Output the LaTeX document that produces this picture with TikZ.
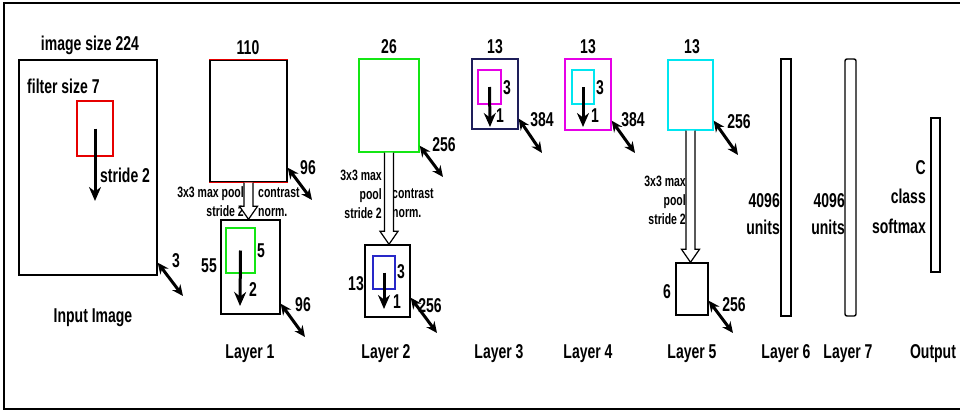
\documentclass[tikz,border=0pt]{standalone}
\usepackage{fontspec}
\setmainfont{Liberation Sans}[FakeStretch=0.7]
\usetikzlibrary{calc, arrows.meta}

\definecolor{navy}{RGB}{30,30,90}
\definecolor{brightgreen}{RGB}{20,230,20}
\definecolor{brightcyan}{RGB}{0,230,240}
\definecolor{brightmagenta}{RGB}{230,0,230}
\definecolor{brightred}{RGB}{230,0,0}
\definecolor{filterblue}{RGB}{40,40,200}

\begin{document}
\begin{tikzpicture}[x=1pt, y=-1pt, >={Stealth[length=11pt, width=10pt]},
    box/.style 2 args={draw, line width=1.4pt, inner sep=0pt, minimum width=#1pt, minimum height=#2pt},
    lbl/.style={inner sep=0pt, font=\fontsize{20}{27}\selectfont\bfseries},
    small/.style={inner sep=0pt, font=\fontsize{15}{19}\selectfont\bfseries},
    depth/.style={<->, line width=3pt},
    stride/.style={-{Stealth[length=14pt, width=12pt]}, line width=3pt},
    pool/.style={line width=1.2pt, fill=white}]
  \useasboundingbox (0,0) rectangle (960,412);

  % Frame
  \draw[line width=2pt] (964,3) -- (4,3) -- (4,409) -- (964,409);

  % Input image
  \node[box={138}{215}] (img) at (88,167.5) {};
  \node[box={36}{55}, draw=brightred] (f0) at (95,128.5) {};
  \coordinate (s0) at (95,201);
  \draw[stride] (f0.center) -- (s0);
  \coordinate (d0) at (183,296);
  \draw[depth] ([yshift=13pt]img.south east) -- (d0);
  \node[lbl] (t0) at (90,45) {image size 224};
  \node[lbl, anchor=west] (fs) at (27,86) {filter size 7};
  \node[lbl, anchor=west] (st) at (100,175) {stride 2};
  \node[lbl] (c0) at (176,261) {3};
  \node[lbl] (n0) at (93,318) {Input Image};

  % Layer 1
  \node[box={77}{122}] (l1a) at (248.5,121) {};
  \draw[brightred, line width=1.4pt] (l1a.north west) -- (l1a.north east) (l1a.south west) -- (l1a.south east);
  \node[box={59}{94}] (l1b) at (250.5,267) {};
  \node[box={29}{45}, draw=brightgreen] (f1) at (240.5,250.5) {};
  \coordinate (s1) at (240,306);
  \draw[stride] (f1.center) -- (s1);
  \coordinate (d1a) at (312,200);
  \coordinate (d1b) at (305,337);
  \draw[depth] ([yshift=15pt]l1a.south east) -- (d1a);
  \draw[depth] ([yshift=11pt]l1b.south east) -- (d1b);
  \node[lbl] (t1) at (248,48) {110};
  \node[lbl] (c1a) at (308,168) {96};
  \node[lbl] (c1b) at (303,305) {96};
  \node[lbl, anchor=east] (w1) at (217,266) {55};
  \node[lbl] (k1) at (261,251) {5};
  \node[lbl] (r1) at (253,290) {2};
  \node[small, align=right, anchor=east] (p1) at (244,202) {3x3 max pool\\stride 2};
  \node[small, align=left, anchor=west] (m1) at (258,202) {contrast\\norm.};
  \node[lbl] (n1) at (250,354) {Layer 1};

  % Layer 2
  \node[box={60}{93}, draw=brightgreen] (l2a) at (389,105.5) {};
  \node[box={45}{72}] (l2b) at (387.5,281) {};
  \node[box={22}{33}, draw=filterblue] (f2) at (384,272.5) {};
  \coordinate (s2) at (384,309);
  \draw[stride] (f2.center) -- (s2);
  \coordinate (d2a) at (443,177);
  \coordinate (d2b) at (437,333);
  \draw[depth] ([yshift=7pt]l2a.south east) -- (d2a);
  \draw[depth] ([yshift=20pt]l2b.south east) -- (d2b);
  \node[lbl] (t2) at (389,47) {26};
  \node[lbl] (c2a) at (444,145) {256};
  \node[lbl] (c2b) at (430,306) {256};
  \node[lbl, anchor=east] (w2) at (364,284) {13};
  \node[lbl] (k2) at (401,272) {3};
  \node[lbl] (r2) at (397,302) {1};
  \node[small, align=right, anchor=east] (p2) at (382,194) {3x3 max\\pool\\stride 2};
  \node[small, align=left, anchor=west] (m2) at (392,203.5) {contrast\\norm.};
  \node[lbl] (n2) at (386,354) {Layer 2};

  % Layer 3
  \node[box={46}{70}, draw=navy] (l3) at (495,94) {};
  \node[box={23}{34}, draw=brightmagenta] (f3) at (489.5,87) {};
  \coordinate (s3) at (490,127);
  \draw[stride] (f3.center) -- (s3);
  \coordinate (d3) at (542,153);
  \draw[depth] ([yshift=11pt]l3.south east) -- (d3);
  \node[lbl] (t3) at (495,47) {13};
  \node[lbl] (k3) at (507,88) {3};
  \node[lbl] (r3) at (500,116) {1};
  \node[lbl] (c3) at (542,120) {384};
  \node[lbl] (n3) at (499,354) {Layer 3};

  % Layer 4
  \node[box={46}{71}, draw=brightmagenta] (l4) at (588,94.5) {};
  \node[box={22}{34}, draw=brightcyan] (f4) at (583,87) {};
  \coordinate (s4) at (583,127);
  \draw[stride] (f4.center) -- (s4);
  \coordinate (d4) at (635,153);
  \draw[depth] ([yshift=10pt]l4.south east) -- (d4);
  \node[lbl] (t4) at (588,47) {13};
  \node[lbl] (k4) at (600,88) {3};
  \node[lbl] (r4) at (595,116) {1};
  \node[lbl] (c4) at (633,120) {384};
  \node[lbl] (n4) at (588,354) {Layer 4};

  % Layer 5
  \node[box={45}{70}, draw=brightcyan] (l5a) at (690.5,95) {};
  \node[box={32}{52}] (l5b) at (692,289) {};
  \coordinate (d5a) at (738,155);
  \coordinate (d5b) at (733,333);
  \draw[depth] ([yshift=10pt]l5a.south east) -- (d5a);
  \draw[depth] ([yshift=15pt]l5b.south east) -- (d5b);
  \node[lbl] (t5) at (692,47) {13};
  \node[lbl] (c5a) at (739,122) {256};
  \node[lbl] (c5b) at (734,305) {256};
  \node[lbl, anchor=east] (w5) at (671,292) {6};
  \node[small, align=right, anchor=east] (p5) at (686,200) {3x3 max\\pool\\stride 2};
  \node[lbl] (n5) at (692,354) {Layer 5};

  % Pooling arrows
  \foreach \a/\b in {l1a/l1b, l2a/l2b, l5a/l5b} {
    \coordinate (tip) at (\a.south |- \b.north);
    \draw[pool] ([xshift=-4.5pt]\a.south) -- ([xshift=-4.5pt,yshift=13pt]tip)
      -- ([xshift=-9pt,yshift=13pt]tip) -- (tip) -- ([xshift=9pt,yshift=13pt]tip)
      -- ([xshift=4.5pt,yshift=13pt]tip) -- ([xshift=4.5pt]\a.south);
  }

  % Fully connected layers
  \node[box={10}{257}] (l6) at (786,187.5) {};
  \node[box={11}{257}, rounded corners=2pt] (l7) at (850.5,187.5) {};
  \node[box={9}{154}] (out) at (935.5,195) {};
  \node[lbl, align=right, anchor=east] (u6) at (780,214) {4096\\units};
  \node[lbl, align=right, anchor=east] (u7) at (845,214) {4096\\units};
  \node[lbl, align=right, anchor=east, font=\fontsize{20}{29.5}\selectfont\bfseries] (uo) at (926,197) {C\\class\\softmax};
  \node[lbl] (n6) at (786,354) {Layer 6};
  \node[lbl] (n7) at (848,354) {Layer 7};
  \node[lbl] (no) at (933,354) {Output};
\end{tikzpicture}
\end{document}
